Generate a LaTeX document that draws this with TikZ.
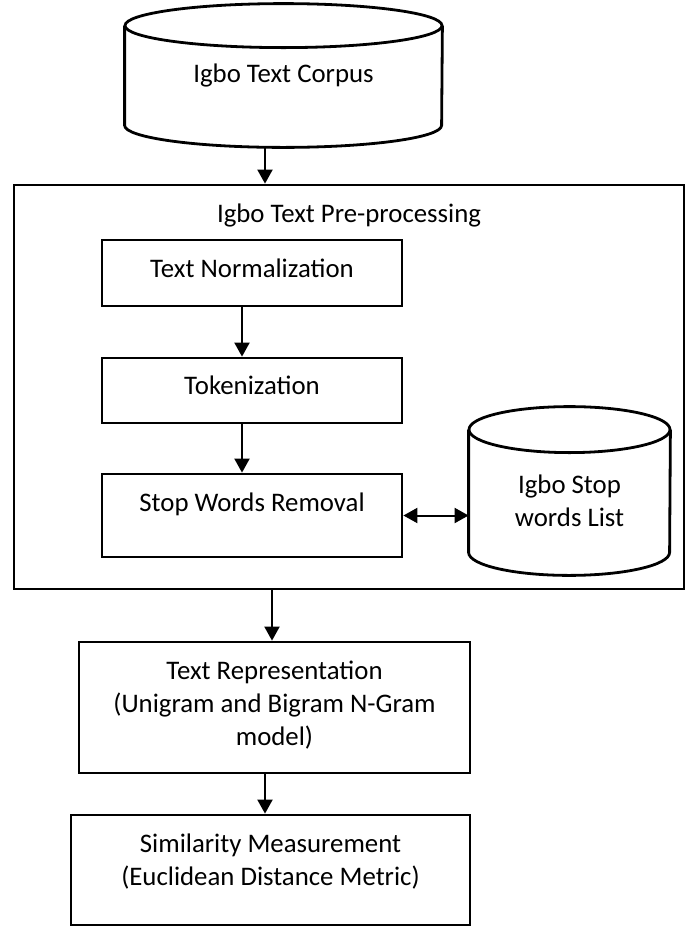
\documentclass[tikz,border=0pt]{standalone}
\usepackage{fontspec}
\setmainfont{Carlito}
\usetikzlibrary{arrows.meta}
\newcommand{\drawdrum}[3]{   % node, x radius, y radius
	\draw[line width=1.4pt] ([yshift=-#3]#1.north west) -- ([yshift=#3]#1.south west)
		arc[start angle=180, end angle=360, x radius=#2, y radius=#3]
		-- ([yshift=-#3]#1.north east);
	\draw[line width=1.4pt] ([yshift=-#3]#1.north) ellipse[x radius=#2, y radius=#3];
}

\tikzset{
	box/.style={draw, line width=1.4pt, rectangle, align=center, inner sep=0pt},
	drum/.style={rectangle, align=center, inner sep=0pt},
	flow/.style={line width=1pt, -{Triangle[length=7pt,width=7.5pt]}},
	biflow/.style={line width=1pt, {Triangle[length=7pt,width=7.5pt]}-{Triangle[length=7pt,width=7.5pt]}},
}

\begin{document}
\begin{tikzpicture}[x=0.5pt, y=-0.5pt, font=\fontsize{13.4}{16.5}\selectfont]

\useasboundingbox (0, 0) rectangle (689, 927);

% corpus
\node[drum, minimum width=158.5pt, minimum height=71.5pt] (corpus) at (283.5, 75.5) {Igbo Text Corpus};
\drawdrum{corpus}{79.25pt}{11pt}

% pre-processing block
\node[box, minimum width=335pt, minimum height=202pt] (prep) at (349, 387) {};
\node (preptitle) at (349, 215) {Igbo Text Pre-processing};

\node[box, minimum width=150pt, minimum height=33pt, text depth=5pt] (norm) at (252, 273) {Text Normalization};
\node[box, minimum width=150pt, minimum height=32.5pt, text depth=5pt] (tok) at (252, 390.5) {Tokenization};
\node[box, minimum width=150pt, minimum height=41.5pt, text depth=13pt] (stop) at (252, 515.5) {Stop Words Removal};
\node[drum, minimum width=100.5pt, minimum height=84pt, text height=36pt] (stoplist) at (569.5, 491) {Igbo Stop\\words List};
\drawdrum{stoplist}{50.25pt}{11.5pt}

% later stages
\node[box, minimum width=195.5pt, minimum height=65.5pt, text depth=4.5pt] (textrep) at (274.5, 707.5) {Text Representation\\(Unigram and Bigram N-Gram\\model)};
\node[box, minimum width=199.5pt, minimum height=55pt, text depth=10.5pt] (sim) at (270.5, 870) {Similarity Measurement\\(Euclidean Distance Metric)};

% connectors
\draw[flow] ([xshift=-9.25pt]corpus.south) -- ([xshift=-9.25pt]corpus.south |- prep.north);
\draw[flow] ([xshift=-5pt]norm.south) -- ([xshift=-5pt]tok.north);
\draw[flow] ([xshift=-5pt]tok.south) -- ([xshift=-5pt]stop.north);
\draw[biflow] (stop.east) -- (stop.east -| stoplist.west);
\draw[flow] ([xshift=-1.25pt]textrep.north |- prep.south) -- ([xshift=-1.25pt]textrep.north);
\draw[flow] ([xshift=-2.75pt]sim.north |- textrep.south) -- ([xshift=-2.75pt]sim.north);

\end{tikzpicture}
\end{document}
